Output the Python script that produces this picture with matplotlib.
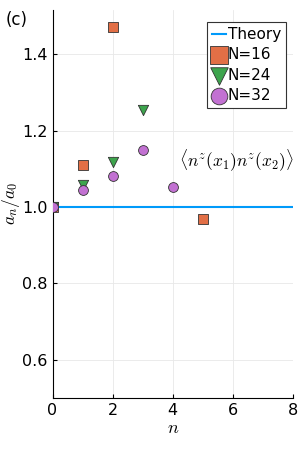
import matplotlib
matplotlib.use("Agg")
import matplotlib.pyplot as plt

# ratios a_n / a_0
n16 = [0, 1, 2, 5]
r16 = [1.0, 1.109, 1.471, 0.969]
n24 = [0, 1, 2, 3]
r24 = [1.0, 1.058, 1.117, 1.253]
n32 = [0, 1, 2, 3, 4]
r32 = [1.0, 1.043, 1.080, 1.148, 1.051]

plt.rcParams['font.family'] = ['DejaVu Sans']
plt.rcParams['mathtext.fontset'] = 'cm'

fig = plt.figure(figsize=(3.02, 4.54), dpi=100)
ax = fig.add_axes([0.174, 0.124, 0.796, 0.854])

ax.axhline(1.0, color='#009AFA', lw=1.5, label='Theory', zorder=2)
ax.scatter(n16, r16, marker='s', s=55, c='#E26F46', edgecolors='#333333',
           linewidths=0.6, label='N=16', zorder=3)
ax.scatter(n24, r24, marker='v', s=55, c='#3DA44D', edgecolors='#333333',
           linewidths=0.6, label='N=24', zorder=3)
ax.scatter(n32, r32, marker='o', s=50, c='#C271D2', edgecolors='#333333',
           linewidths=0.6, label='N=32', zorder=3)

ax.text(6.1, 1.12, r'$\langle n^z(x_1)n^z(x_2)\rangle$', fontsize=12.5,
        ha='center', va='center')

ax.set_xlim(0, 8)
ax.set_ylim(0.5, 1.516)
ax.set_xticks([0, 2, 4, 6, 8])
ax.set_yticks([0.6, 0.8, 1.0, 1.2, 1.4])
ax.grid(True, color='#e8e8e8', lw=0.6)
ax.set_axisbelow(True)
for s in ['top', 'right']:
    ax.spines[s].set_visible(False)
ax.tick_params(labelsize=11.5, length=3, direction='in')
ax.set_xlabel(r'$n$', fontsize=13, labelpad=1)
ax.set_ylabel(r'$a_n/a_0$', fontsize=12.5, labelpad=0)

leg = ax.legend(loc='upper right', bbox_to_anchor=(0.972, 0.97), fontsize=11,
                markerscale=1.7, handlelength=0.9, handletextpad=0.1,
                labelspacing=0.35, borderpad=0.35, borderaxespad=0,
                fancybox=False, framealpha=1, edgecolor='#333333')
leg.get_frame().set_linewidth(0.8)

fig.text(0.02, 0.975, '(c)', fontsize=12, va='top')

fig.savefig('out.png', dpi=100)
